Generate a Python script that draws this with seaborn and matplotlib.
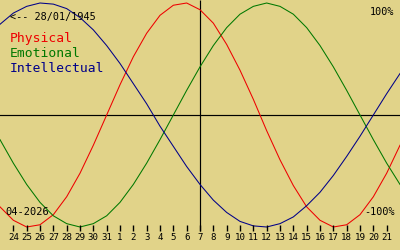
import numpy as np
import pandas as pd
import matplotlib
matplotlib.use("Agg")
import matplotlib.pyplot as plt
import seaborn as sns

# Day labels shown along the bottom (23 Mar 2026 .. 22 Apr 2026, index 0..30)
day_labels = [24, 25, 26, 27, 28, 29, 30, 31, 1, 2, 3, 4, 5, 6, 7, 8, 9, 10,
              11, 12, 13, 14, 15, 16, 17, 18, 19, 20, 21]
day_index = list(range(31))

physical = [-0.82, -0.94, -1.00, -0.98, -0.89, -0.73, -0.52, -0.27, 0.00, 0.27,
            0.52, 0.73, 0.89, 0.98, 1.00, 0.94, 0.82, 0.63, 0.40, 0.14,
            -0.14, -0.40, -0.63, -0.82, -0.94, -1.00, -0.98, -0.89, -0.73, -0.52,
            -0.27]
emotional = [-0.22, -0.43, -0.62, -0.78, -0.90, -0.97, -1.00, -0.97, -0.90, -0.78,
             -0.62, -0.43, -0.22, 0.00, 0.22, 0.43, 0.62, 0.78, 0.90, 0.97,
             1.00, 0.97, 0.90, 0.78, 0.62, 0.43, 0.22, 0.00, -0.22, -0.43,
             -0.62]
intellectual = [0.81, 0.91, 0.97, 1.00, 0.99, 0.95, 0.87, 0.76, 0.62, 0.46,
                0.28, 0.10, -0.10, -0.28, -0.46, -0.62, -0.76, -0.87, -0.95, -0.99,
                -1.00, -0.97, -0.91, -0.81, -0.69, -0.54, -0.37, -0.19, 0.00, 0.19,
                0.37]
series_names = ["Physical", "Emotional", "Intellectual"]
series_colors = ["#ee0000", "#007800", "#000088"]
today_index = 15
birth_text = "<-- 28/01/1945"
month_text = "04-2026"

df = pd.DataFrame({
    "day": day_index * 3,
    "value": physical + emotional + intellectual,
    "cycle": [series_names[0]] * 31 + [series_names[1]] * 31 + [series_names[2]] * 31,
})

bg = "#e1d389"
fig = plt.figure(figsize=(4, 2.5), dpi=100, facecolor=bg)
ax = fig.add_axes([0, 0, 1, 1])
ax.set_facecolor(bg)

W, H = 400, 250
cy, amp = 115.0, 112.0
def v_of(py):
    return (cy - py) / amp

ax.set_xlim(0, 30)
ax.set_ylim(v_of(H), v_of(0))
ax.axis("off")

# axes lines
ax.axhline(0, color="black", lw=0.85)
ax.vlines(today_index, v_of(230.7), v_of(0), color="black", lw=0.85)

sns.lineplot(data=df, x="day", y="value", hue="cycle", palette=series_colors,
             hue_order=series_names, lw=0.75, legend=False, ax=ax)

# day ticks and labels
for i, lab in enumerate(day_labels, start=1):
    ax.vlines(i, v_of(230.7), v_of(224.7), color="black", lw=1.0)
    ax.text(i, v_of(237.5), str(lab), ha="center", va="center",
            fontsize=6.6, family="DejaVu Sans Mono", color="black")

mono = "DejaVu Sans Mono"
def ftxt(px, py, s, **kw):
    fig.text(px / W, 1 - py / H, s, family=mono, **kw)

ftxt(10, 17, birth_text, fontsize=7.3, ha="left", va="center", color="black")
ftxt(394, 12, "100%", fontsize=7.3, ha="right", va="center", color="black")
ftxt(5, 212, month_text, fontsize=7.5, ha="left", va="center", color="black")
ftxt(395, 212, "-100%", fontsize=7.3, ha="right", va="center", color="black")

for k, (name, col) in enumerate(zip(series_names, series_colors)):
    ftxt(10, 38.5 + 15 * k, name, fontsize=9.4, ha="left", va="center", color=col)

fig.savefig("out.png", dpi=100, facecolor=bg)
